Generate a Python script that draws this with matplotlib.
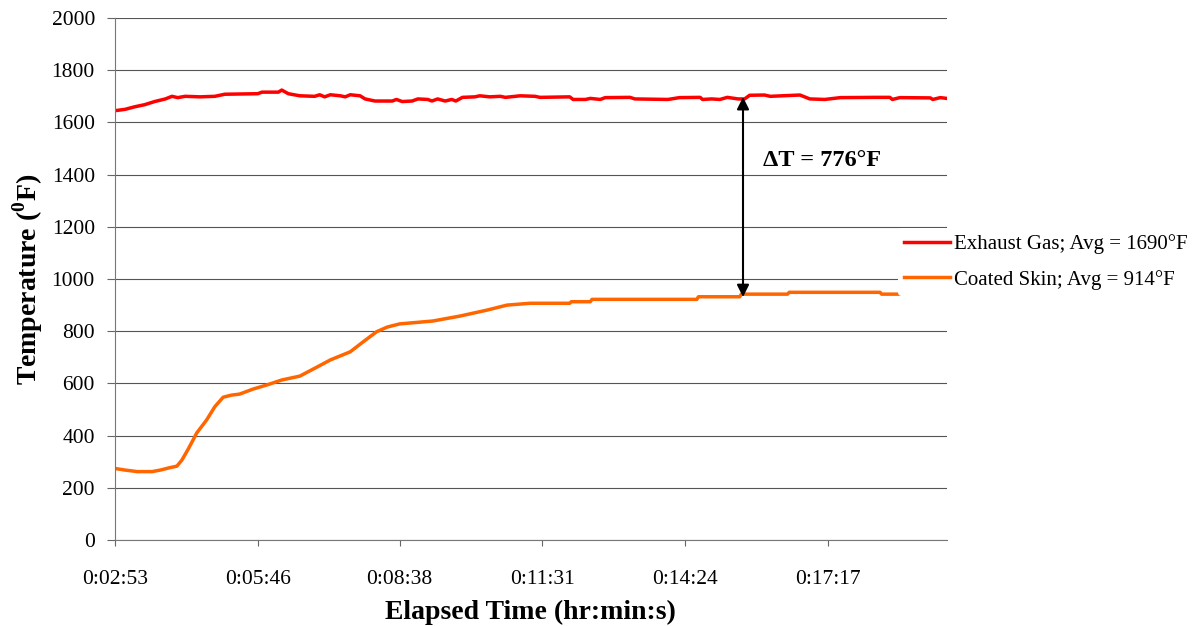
import matplotlib
matplotlib.use("Agg")
import matplotlib.pyplot as plt

plt.rcParams['font.family'] = ['Liberation Serif', 'DejaVu Serif']
plt.rcParams['mathtext.fontset'] = 'custom'
plt.rcParams['mathtext.rm'] = 'Liberation Serif'
plt.rcParams['mathtext.bf'] = 'Liberation Serif:bold'

# Daten (Zeit in Sekunden, Temperatur in °F)
t_exhaust = [173, 185, 197, 209, 221, 234, 242, 249, 258, 276, 294, 306, 346, 351, 371, 375,
             383, 397, 415, 421, 427, 434, 446, 452, 458, 470, 476, 488, 509, 514, 521, 533,
             540, 552, 557, 564, 573, 581, 586, 594, 609, 615, 627, 640, 646, 664, 682, 688,
             724, 728, 743, 749, 761, 767, 797, 803, 843, 857, 882, 885, 896, 906, 915, 928,
             936, 942, 960, 967, 1003, 1015, 1033, 1052, 1094, 1112, 1115, 1124, 1161, 1164,
             1173, 1181]
exhaust = [1645, 1650, 1660, 1668, 1680, 1690, 1700, 1695, 1700, 1698, 1700, 1708, 1710, 1716,
           1716, 1724, 1710, 1702, 1700, 1706, 1698, 1706, 1702, 1698, 1706, 1702, 1690, 1682,
           1682, 1688, 1680, 1682, 1690, 1688, 1682, 1690, 1682, 1688, 1682, 1696, 1698, 1702,
           1698, 1700, 1696, 1702, 1700, 1696, 1698, 1688, 1688, 1692, 1688, 1695, 1696, 1690,
           1688, 1695, 1696, 1688, 1690, 1688, 1696, 1690, 1690, 1704, 1705, 1700, 1705, 1690,
           1688, 1695, 1696, 1696, 1688, 1695, 1694, 1688, 1695, 1692]

t_skin = [173, 185, 200, 218, 228, 238, 248, 254, 262, 272, 284, 294, 304, 314, 324, 340, 357,
          375, 397, 418, 434, 458, 474, 490, 503, 518, 558, 591, 624, 648, 676, 724, 726, 749,
          751, 878, 880, 930, 932, 988, 990, 1100, 1102, 1181]
skin = [274, 268, 262, 262, 268, 276, 283, 306, 350, 410, 460, 511, 547, 555, 559, 578, 594,
        613, 628, 663, 690, 721, 760, 798, 816, 828, 839, 858, 881, 900, 907, 907, 913, 913,
        922, 922, 932, 932, 942, 942, 949, 949, 942, 942]

tick_pos = [173, 346, 518, 691, 864, 1037]
tick_labels = ['0:02:53', '0:05:46', '0:08:38', '0:11:31', '0:14:24', '0:17:17']

delta_t = 934
delta_top = 1697
delta_bottom = 931

fig = plt.figure(figsize=(11.97, 6.26), dpi=100)
ax = fig.add_axes([0.0961, 0.1374, 0.791 - 0.0961, 0.9712 - 0.1374])

ax.plot(t_exhaust, exhaust, color='#FF0000', linewidth=2.5, label='Exhaust Gas; Avg = 1690°F')
ax.plot(t_skin, skin, color='#FF6600', linewidth=2.5, label='Coated Skin; Avg = 914°F')

# Doppelpfeil fuer Delta T
ax.annotate('', xy=(delta_t, delta_top), xytext=(delta_t, delta_bottom),
            arrowprops=dict(arrowstyle='<|-|>', color='black', lw=1.5, mutation_scale=18,
                            shrinkA=0, shrinkB=0))
ax.text(delta_t + 24, 1456, 'ΔT = 776°F', fontsize=17.5, fontweight='bold', va='center')

ax.set_xlim(173, 1181)
ax.set_ylim(0, 2000)
ax.set_yticks(range(0, 2001, 200))
ax.set_xticks(tick_pos)
ax.set_xticklabels(tick_labels)
ax.tick_params(labelsize=15.5, color='#666666', direction='out')
ax.tick_params(axis='y', length=6, pad=8.5)
ax.tick_params(axis='x', length=4.5, pad=17)

ax.grid(axis='y', color='#555555', linewidth=0.8)
ax.set_axisbelow(True)
ax.spines['top'].set_visible(False)
ax.spines['right'].set_visible(False)
ax.spines['left'].set_color('#777777')
ax.spines['bottom'].set_color('#777777')

ax.set_xlabel('Elapsed Time (hr:min:s)', fontsize=20, fontweight='bold', labelpad=8)
ax.set_ylabel(r'Temperature ($^\mathbf{0}$F)', fontsize=20, fontweight='bold', labelpad=5)

leg = ax.legend(loc='center left', bbox_to_anchor=(898 / 1197, 1 - 262 / 626),
                bbox_transform=fig.transFigure, fontsize=15, frameon=True,
                handlelength=2.2, borderpad=0.3, labelspacing=0.75, handletextpad=0.2,
                borderaxespad=0)
leg.get_frame().set_facecolor('white')
leg.get_frame().set_edgecolor('none')
leg.get_frame().set_alpha(1)
leg.set_zorder(10)

fig.savefig('out.png', dpi=100)
